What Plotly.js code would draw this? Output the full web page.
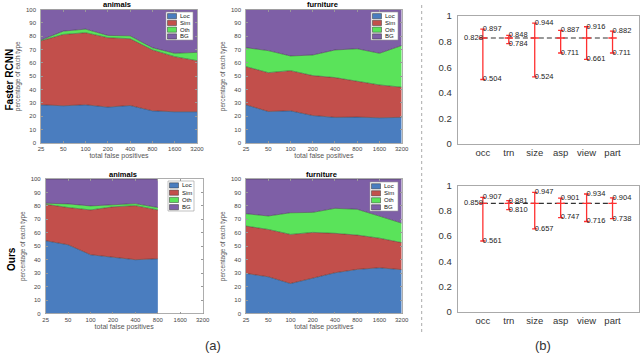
<!DOCTYPE html>
<html>
<head>
<meta charset="utf-8">
<script src="https://cdn.plot.ly/plotly-3.0.1.min.js"></script>
<style>
  html, body { margin: 0; padding: 0; background: #fff; }
  #chart { width: 640px; height: 354px; }
</style>
</head>
<body>
<div id="chart"></div>
<script>
// ---- data ----
const xLabels = ['25', '50', '100', '200', '400', '800', '1600', '3200'];
const typeNames = ['Loc', 'Sim', 'Oth', 'BG'];
const typeColors = ['#4a7dbf', '#c24f4b', '#5ae35a', '#7e5fa6'];

// Faster RCNN, animals (percent of each error type)
const fasterAnimalsLoc = [28.6, 27.9, 28.6, 26.9, 28.1, 24.1, 23.4, 23.4];
const fasterAnimalsSim = [48.0, 53.4, 54.0, 52.0, 50.0, 45.6, 41.3, 38.3];
const fasterAnimalsOth = [0.5, 2.5, 2.7, 1.7, 2.2, 1.7, 2.5, 6.2];
const fasterAnimalsBG  = [22.9, 16.2, 14.7, 19.4, 19.7, 28.6, 32.8, 32.1];

// Faster RCNN, furniture
const fasterFurnLoc = [28.6, 23.6, 24.1, 20.6, 19.2, 19.4, 18.9, 19.2];
const fasterFurnSim = [28.6, 29.1, 30.1, 29.9, 29.8, 27.1, 24.6, 22.6];
const fasterFurnOth = [14.2, 16.5, 11.0, 15.4, 20.7, 24.1, 23.7, 31.2];
const fasterFurnBG  = [28.6, 30.8, 34.8, 34.1, 30.3, 29.4, 32.8, 27.0];

// Ours, animals (only up to 800)
const oursAnimalsLoc = [54.1, 51.1, 43.7, 42.0, 40.0, 40.7];
const oursAnimalsSim = [27.1, 27.7, 33.3, 37.3, 40.2, 36.3];
const oursAnimalsOth = [0.8, 2.7, 3.0, 1.4, 1.5, 1.8];
const oursAnimalsBG  = [18.0, 18.5, 20.0, 19.3, 18.3, 21.2];

// Ours, furniture
const oursFurnLoc = [29.8, 27.3, 22.3, 26.1, 30.3, 32.8, 34.0, 32.6];
const oursFurnSim = [35.2, 35.2, 36.5, 34.2, 29.3, 25.5, 22.0, 20.1];
const oursFurnOth = [9.2, 10.0, 16.1, 14.9, 18.6, 19.2, 16.4, 14.5];
const oursFurnBG  = [25.8, 27.5, 25.1, 24.8, 21.8, 22.5, 27.6, 32.8];

// (b) sensitivity per attribute
const attrs = ['occ', 'trn', 'size', 'asp', 'view', 'part'];
const fasterAvg = 0.828;
const fasterMax = [0.897, 0.848, 0.944, 0.887, 0.916, 0.882];
const fasterMin = [0.504, 0.784, 0.524, 0.711, 0.661, 0.711];
const oursAvg = 0.859;
const oursMax = [0.907, 0.881, 0.947, 0.901, 0.934, 0.904];
const oursMin = [0.561, 0.810, 0.657, 0.747, 0.716, 0.738];

// ---- layout helpers ----
const W = 640, H = 354;
const FONT = 'Liberation Sans, Arial, Helvetica, sans-serif';
const px = x => x / W;
const py = y => 1 - y / H;
const domX = (a, b) => [px(a), px(b)];
const domY = (top, bottom) => [py(bottom), py(top)];

let traces = [];
let shapes = [];
let annotations = [];

function areaPanel(n, series) {
  const xs = series[0].map((_, i) => i);
  series.forEach((ys, k) => {
    traces.push({
      type: 'scatter', mode: 'lines',
      x: xs, y: ys,
      stackgroup: 'g' + n,
      fillcolor: typeColors[k],
      line: {color: 'rgba(45,45,45,0.75)', width: 0.6},
      name: typeNames[k],
      xaxis: 'x' + n, yaxis: 'y' + n,
      hoverinfo: 'skip'
    });
  });
}

function legendBox(x0, y0, x1, y1) {
  shapes.push({type: 'rect', xref: 'paper', yref: 'paper',
    x0: px(x0), x1: px(x1), y0: py(y0), y1: py(y1),
    fillcolor: '#fff', line: {color: '#999', width: 0.6}});
  const rowH = (y1 - y0 - 1) / 4;
  typeNames.forEach((t, i) => {
    const cy = y0 + 0.8 + rowH * (i + 0.5);
    shapes.push({type: 'rect', xref: 'paper', yref: 'paper',
      x0: px(x0 + 1.5), x1: px(x0 + 10.5), y0: py(cy + 2.6), y1: py(cy - 2.6),
      fillcolor: typeColors[i], line: {color: '#333', width: 0.5}});
    annotations.push({xref: 'paper', yref: 'paper', x: px(x0 + 11.5), y: py(cy),
      xanchor: 'left', yanchor: 'middle', showarrow: false, text: t,
      font: {family: FONT, size: 6, color: '#111'}});
  });
}

function label(x, y, text, font, extra) {
  annotations.push(Object.assign({xref: 'paper', yref: 'paper', x: px(x), y: py(y),
    xanchor: 'center', yanchor: 'middle', showarrow: false, text: text, font: font}, extra || {}));
}

function errPanel(n, avg, mx, mn) {
  const avgs = attrs.map(() => avg);
  traces.push({
    type: 'scatter', mode: 'lines', x: attrs.map((_, i) => i), y: avgs,
    line: {color: '#333', width: 1.2, dash: '5px,3px'},
    xaxis: 'x' + n, yaxis: 'y' + n, hoverinfo: 'skip'
  });
  traces.push({
    type: 'scatter', mode: 'markers', x: attrs.map((_, i) => i), y: avgs,
    marker: {symbol: 'line-ew-open', size: 6, color: '#ff3030', line: {color: '#ff3030', width: 1.3}},
    error_y: {type: 'data', symmetric: false,
      array: mx.map(v => v - avg), arrayminus: mn.map(v => avg - v),
      color: '#ff3030', thickness: 1.3, width: 2.6},
    xaxis: 'x' + n, yaxis: 'y' + n, hoverinfo: 'skip'
  });
  const tf = {family: FONT, size: 7.5, color: '#222'};
  traces.push({
    type: 'scatter', mode: 'text', x: attrs.map((_, i) => i), y: mx,
    text: mx.map(v => v.toFixed(3)), textposition: 'middle right', textfont: tf,
    xaxis: 'x' + n, yaxis: 'y' + n, hoverinfo: 'skip'
  });
  traces.push({
    type: 'scatter', mode: 'text', x: attrs.map((_, i) => i), y: mn,
    text: mn.map(v => v.toFixed(3)), textposition: 'middle right', textfont: tf,
    xaxis: 'x' + n, yaxis: 'y' + n, hoverinfo: 'skip'
  });
  traces.push({
    type: 'scatter', mode: 'text', x: [0], y: [avg],
    text: [avg.toFixed(3)], textposition: 'middle left', textfont: tf,
    xaxis: 'x' + n, yaxis: 'y' + n, hoverinfo: 'skip'
  });
}

areaPanel(1, [fasterAnimalsLoc, fasterAnimalsSim, fasterAnimalsOth, fasterAnimalsBG]);
areaPanel(2, [fasterFurnLoc, fasterFurnSim, fasterFurnOth, fasterFurnBG]);
areaPanel(3, [oursAnimalsLoc, oursAnimalsSim, oursAnimalsOth, oursAnimalsBG]);
areaPanel(4, [oursFurnLoc, oursFurnSim, oursFurnOth, oursFurnBG]);
errPanel(5, fasterAvg, fasterMax, fasterMin);
errPanel(6, oursAvg, oursMax, oursMin);

const tickFontSmall = {family: FONT, size: 6, color: '#444'};
function areaX(dom, anchor) {
  return {domain: dom, anchor: anchor, range: [0, 7],
    tickvals: xLabels.map((_, i) => i), ticktext: xLabels,
    showline: true, mirror: 'ticks', linecolor: '#999', linewidth: 0.8,
    ticks: 'inside', ticklen: 2, tickcolor: '#999', tickfont: tickFontSmall,
    showgrid: false, zeroline: false,
    title: {text: 'total false positives', font: {family: FONT, size: 7, color: '#555'}, standoff: 1}};
}
function areaY(dom, anchor) {
  return {domain: dom, anchor: anchor, range: [0, 100], dtick: 10,
    showline: true, mirror: 'ticks', linecolor: '#999', linewidth: 0.8,
    ticks: 'inside', ticklen: 2, tickcolor: '#999', tickfont: tickFontSmall,
    ticklabelstandoff: 3,
    showgrid: false, zeroline: false,
    title: {text: 'percentage of each type', font: {family: FONT, size: 6.5, color: '#555'}, standoff: 4}};
}
const tickFontMid = {family: FONT, size: 9.5, color: '#333'};
function errX(dom, anchor) {
  return {domain: dom, anchor: anchor, range: [-0.97, 6.02],
    tickvals: attrs.map((_, i) => i), ticktext: attrs,
    showline: true, mirror: true, linecolor: '#aaa', linewidth: 1,
    ticks: '', tickfont: tickFontMid, showgrid: false, zeroline: false};
}
function errY(dom, anchor) {
  return {domain: dom, anchor: anchor, range: [0, 1], dtick: 0.2,
    tickvals: [0, 0.2, 0.4, 0.6, 0.8, 1], ticktext: ['0', '0.2', '0.4', '0.6', '0.8', '1'],
    showline: true, mirror: true, linecolor: '#aaa', linewidth: 1,
    ticks: '', tickfont: tickFontMid, ticklabelstandoff: 3,
    showgrid: false, zeroline: false};
}

// legends
legendBox(166, 12, 193, 40);
legendBox(371, 12, 398, 40);
legendBox(168, 181, 194, 211);
legendBox(370, 182, 398, 211);

// panel titles
const titleFont = {family: FONT, size: 7.5, color: '#000', weight: 'bold'};
label(117, 4.5, '<b>animals</b>', titleFont);
label(322, 4.5, '<b>furniture</b>', titleFont);
label(123, 174, '<b>animals</b>', titleFont);
label(321, 174, '<b>furniture</b>', titleFont);

// row labels
const rowFont = {family: FONT, size: 10, color: '#000'};
label(8.5, 80, '<b>Faster RCNN</b>', rowFont, {textangle: -90});
label(11, 259, '<b>Ours</b>', rowFont, {textangle: -90});

// sub-figure labels
const subFont = {family: FONT, size: 13, color: '#333'};
label(213, 345, '(a)', subFont);
label(543, 345, '(b)', subFont);

// dotted separator
shapes.push({type: 'line', xref: 'paper', yref: 'paper',
  x0: px(421.7), x1: px(421.7), y0: py(5), y1: py(332),
  line: {color: '#aaa', width: 1, dash: 'dot'}});

const layout = {
  width: W, height: H,
  margin: {l: 0, r: 0, t: 0, b: 0},
  paper_bgcolor: '#fff', plot_bgcolor: '#fff',
  showlegend: false,
  font: {family: FONT},
  xaxis: areaX(domX(41, 197), 'y'),
  yaxis: areaY(domY(9.5, 143), 'x'),
  xaxis2: areaX(domX(246, 401.7), 'y2'),
  yaxis2: areaY(domY(9.5, 143), 'x2'),
  xaxis3: areaX(domX(45.7, 202.7), 'y3'),
  yaxis3: areaY(domY(179, 313.5), 'x3'),
  xaxis4: areaX(domX(246, 401.7), 'y4'),
  yaxis4: areaY(domY(179, 313.5), 'x4'),
  xaxis5: errX(domX(457.7, 639), 'y5'),
  yaxis5: errY(domY(16, 144), 'x5'),
  xaxis6: errX(domX(457.7, 639), 'y6'),
  yaxis6: errY(domY(185.7, 311.7), 'x6'),
  shapes: shapes,
  annotations: annotations
};

Plotly.newPlot('chart', traces, layout, {displayModeBar: false, staticPlot: true});
</script>
</body>
</html>
